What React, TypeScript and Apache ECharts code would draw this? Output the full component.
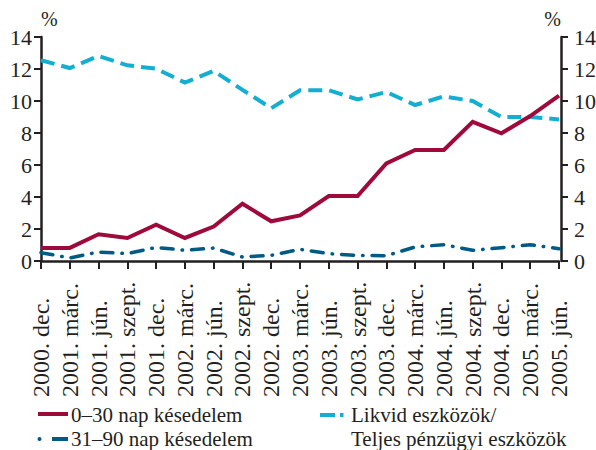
import React, { useEffect, useRef } from "react";
import * as echarts from "echarts";

const categories = [
  "2000. dec.", "2001. márc.", "2001. jún.", "2001. szept.", "2001. dec.",
  "2002. márc.", "2002. jún.", "2002. szept.", "2002. dec.",
  "2003. márc.", "2003. jún.", "2003. szept.", "2003. dec.",
  "2004. márc.", "2004. jún.", "2004. szept.", "2004. dec.",
  "2005. márc.", "2005. jún.",
];

const late0to30 = [0.82, 0.82, 1.67, 1.44, 2.27, 1.44, 2.15, 3.58, 2.48, 2.85, 4.06, 4.06, 6.1, 6.94, 6.94, 8.7, 7.98, 9.06, 10.33];
const late31to90 = [0.52, 0.19, 0.56, 0.46, 0.85, 0.67, 0.81, 0.25, 0.35, 0.73, 0.46, 0.35, 0.33, 0.88, 1.02, 0.67, 0.83, 1.02, 0.77];
const liquidRatio = [12.55, 12.06, 12.81, 12.23, 12.02, 11.15, 11.88, 10.7, 9.55, 10.67, 10.67, 10.1, 10.56, 9.75, 10.29, 10.0, 9.0, 9.0, 8.85];

const yTicks = { min: 0, max: 14, interval: 2 };

const RED = "#9E0B3B";
const DARKBLUE = "#005A86";
const CYAN = "#14AED0";
const INK = "#231F20";
const FONT = "Liberation Serif";

export default function App() {
  const ref = useRef<HTMLDivElement>(null);
  useEffect(() => {
    if (!ref.current) return;
    const chart = echarts.init(ref.current, null, { renderer: "svg" });
    const yAxisBase = {
      type: "value",
      min: yTicks.min,
      max: yTicks.max,
      interval: yTicks.interval,
      splitLine: { show: false },
      axisLine: { show: true, lineStyle: { color: INK, width: 2.5 } },
      axisTick: { show: true, inside: false, length: 7, lineStyle: { color: INK, width: 2 } },
      nameTextStyle: { color: INK, fontFamily: FONT, fontSize: 20 },
      name: "%",
      nameLocation: "end",
      nameGap: 8,
    };
    chart.setOption({
      animation: false,
      backgroundColor: "#ffffff",
      textStyle: { fontFamily: FONT },
      grid: { left: 41, right: 37, top: 37, bottom: 189, containLabel: false, outerBoundsMode: "none" },
      xAxis: {
        type: "category",
        data: categories,
        boundaryGap: false,
        axisLine: { show: true, lineStyle: { color: INK, width: 2.5 } },
        axisTick: { show: true, inside: false, length: 8, alignWithLabel: true, lineStyle: { color: INK, width: 2 } },
        axisLabel: {
          interval: 0,
          rotate: 90,
          align: "left",
          margin: 136,
          color: INK,
          fontFamily: FONT,
          fontSize: 24,
        },
        splitLine: { show: false },
      },
      yAxis: [
        {
          ...yAxisBase,
          position: "left",
          axisLabel: { color: INK, fontFamily: FONT, fontSize: 22, margin: 9 },
          nameTextStyle: { ...yAxisBase.nameTextStyle, align: "left" },
        },
        {
          ...yAxisBase,
          position: "right",
          offset: 2,
          axisLabel: { color: INK, fontFamily: FONT, fontSize: 22, margin: 13 },
          nameTextStyle: { ...yAxisBase.nameTextStyle, align: "right" },
        },
      ],
      series: [
        {
          name: "Likvid eszközök/ Teljes pénzügyi eszközök",
          type: "line",
          data: liquidRatio,
          showSymbol: false,
          symbol: "none",
          lineStyle: { color: CYAN, width: 4, type: [14, 7], cap: "butt", join: "miter" },
        },
        {
          name: "31–90 nap késedelem",
          type: "line",
          data: late31to90,
          showSymbol: false,
          symbol: "none",
          lineStyle: { color: DARKBLUE, width: 3.5, type: [12, 9, 0.5, 9], cap: "round", join: "round" },
        },
        {
          name: "0–30 nap késedelem",
          type: "line",
          data: late0to30,
          showSymbol: false,
          symbol: "none",
          lineStyle: { color: RED, width: 4, type: "solid", join: "miter" },
        },
      ],
      graphic: [
        { type: "line", shape: { x1: 38, y1: 414, x2: 68, y2: 414 }, style: { stroke: RED, lineWidth: 4 } },
        { type: "text", x: 71, y: 415, style: { text: "0–30 nap késedelem", fill: INK, font: `21px "${FONT}"`, textVerticalAlign: "middle", verticalAlign: "middle" } },
        { type: "circle", shape: { cx: 39.5, cy: 439, r: 2 }, style: { fill: DARKBLUE } },
        { type: "line", shape: { x1: 52, y1: 439, x2: 68, y2: 439 }, style: { stroke: DARKBLUE, lineWidth: 4 } },
        { type: "text", x: 71, y: 439, style: { text: "31–90 nap késedelem", fill: INK, font: `21px "${FONT}"`, textVerticalAlign: "middle", verticalAlign: "middle" } },
        { type: "line", shape: { x1: 320, y1: 415, x2: 335, y2: 415 }, style: { stroke: CYAN, lineWidth: 4 } },
        { type: "rect", shape: { x: 340, y: 413, width: 3.5, height: 4 }, style: { fill: CYAN } },
        { type: "text", x: 351, y: 415, style: { text: "Likvid eszközök/", fill: INK, font: `21px "${FONT}"`, textVerticalAlign: "middle", verticalAlign: "middle" } },
        { type: "text", x: 351, y: 439, style: { text: "Teljes pénzügyi eszközök", fill: INK, font: `21px "${FONT}"`, textVerticalAlign: "middle", verticalAlign: "middle" } },
      ],
    });
    return () => chart.dispose();
  }, []);
  return <div ref={ref} style={{ width: 596, height: 450, position: "absolute", left: 0, top: 0 }} />;
}
